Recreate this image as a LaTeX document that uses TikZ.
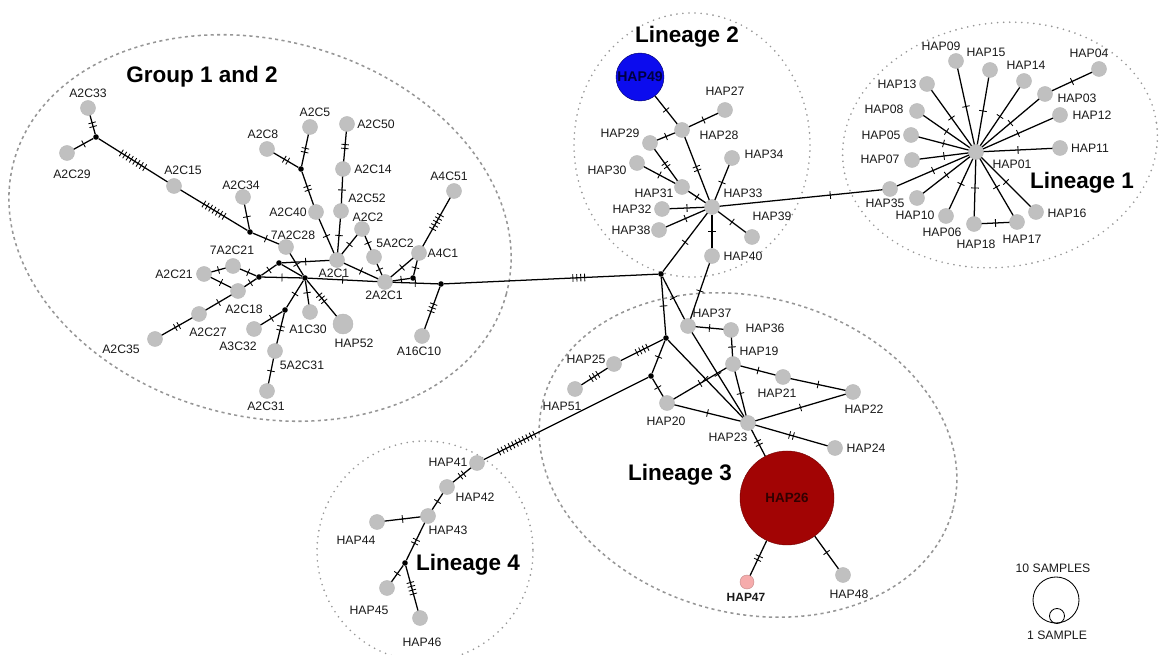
\documentclass[tikz,border=0pt]{standalone}
\usepackage{fontspec}
\setmainfont{Liberation Sans}
\usetikzlibrary{decorations.markings}

\definecolor{hapgray}{RGB}{192,192,192}
\definecolor{hapblue}{RGB}{12,12,238}
\definecolor{hapred}{RGB}{162,4,4}
\definecolor{happink}{RGB}{246,172,172}
\definecolor{ringgray}{RGB}{150,150,150}

\tikzset{
  hap/.style={circle, fill=hapgray, draw=black!28, line width=0.3pt, inner sep=0pt, minimum size=3.75mm},
  med/.style={circle, fill=black, inner sep=0pt, minimum size=1.4mm},
  lbl/.style={font=\fontsize{8.7}{10}\selectfont, text=black!90, inner sep=1pt},
  ttl/.style={font=\bfseries\fontsize{16}{19}\selectfont},
  link/.style={line width=0.9pt},
  mutat/.style 2 args={postaction={decorate, decoration={markings,
      mark=at position #2 with {\foreach \k in {1,...,#1}
        {\draw[line width=0.6pt] ({(\k-(#1+1)/2)*2.8pt},-2.7pt) -- ({(\k-(#1+1)/2)*2.8pt},2.7pt);}}}}},
  mut/.style={mutat={#1}{0.5}},
  dashring/.style={draw=ringgray, line width=1.1pt, dash pattern=on 2.2pt off 2.4pt},
  dotring/.style={draw=ringgray, line width=1.3pt, line cap=round, dash pattern=on 0pt off 4.3pt},
}

\begin{document}
\begin{tikzpicture}[x=0.025cm, y=-0.025cm]
\useasboundingbox (0,0) rectangle (1159,655);

% groups
\draw[dashring, rotate around={-15:(260,228)}] (260,228) ellipse [x radius=255, y radius=188];
\draw[dotring] (692,145) ellipse [x radius=118, y radius=132];
\draw[dotring, rotate around={8:(1000,145)}] (1000,145) ellipse [x radius=158, y radius=122];
\draw[dashring, rotate around={-15:(748,455)}] (748,455) ellipse [x radius=212, y radius=158];
\draw[dotring] (425,551) ellipse [x radius=108, y radius=110];

% haplotypes, one sample
\foreach \n/\x/\y in {A2C33/88/108, A2C29/67/153, A2C15/174/186, A2C34/243/197,
    A2C8/267/149, A2C5/310/127, A2C50/347/124, A2C14/343/169, A2C52/341/211,
    A2C40/316/212, A2C2/362/229, 5A2C2/374/257, A4C51/454/191, A4C1/419/253,
    A2C1/337/260, 2A2C1/385/282, 7A2C28/286/247, 7A2C21/233/266, A2C21/204/274,
    A2C18/238/291, A2C27/199/314, A2C35/155/339, A3C32/254/329, 5A2C31/275/351,
    A2C31/267/391, A1C30/310/312, A16C10/422/336,
    HAP27/725/110, HAP28/682/130, HAP29/650/143, HAP34/732/158, HAP30/637/163,
    HAP31/682/187, HAP33/712/207, HAP32/662/209, HAP38/659/230, HAP39/752/237,
    HAP40/712/256,
    HAP09/956/61, HAP15/990/70, HAP14/1024/81, HAP04/1099/69, HAP03/1045/94,
    HAP13/927/84, HAP08/917/111, HAP12/1060/115, HAP05/911/135, HAP11/1060/148,
    HAP07/912/160, HAP01/976/152, HAP35/890/189, HAP10/917/198, HAP06/946/216,
    HAP18/974/224, HAP17/1017/222, HAP16/1036/212,
    HAP37/688/326, HAP36/731/330, HAP19/733/364, HAP21/783/377, HAP22/853/392,
    HAP23/748/423, HAP24/835/448, HAP48/843/575, HAP25/614/364, HAP51/575/389,
    HAP20/667/403,
    HAP41/477/463, HAP42/447/487, HAP43/428/516, HAP44/377/522, HAP45/387/588,
    HAP46/420/618}
  \node[hap] (\n) at (\x,\y) {};

% larger haplotypes
\node[hap, minimum size=5mm] (HAP52) at (343,324) {};
\node[hap, fill=hapblue, draw=blue!40!black, minimum size=12mm,
  font=\bfseries\fontsize{10}{12}\selectfont, text=black!75!blue] (HAP49) at (640,77) {HAP49};
\node[hap, fill=hapred, draw=hapred!70!black, minimum size=23.5mm,
  font=\bfseries\fontsize{9.5}{11}\selectfont, text=black!70!hapred] (HAP26) at (787,498) {HAP26};
\node[hap, fill=happink, draw=happink!80!black, minimum size=3.5mm] (HAP47) at (747,582) {};

% median vectors
\foreach \n/\x/\y in {j1/96/137, j2/250/232, j3/301/169, j4/279/263, j5/259/277,
    j6/305/278, j7/285/310, j8/413/278, j9/441/284, jc/661/274, jd/666/338,
    je/651/376, jf/405/563}
  \node[med] (\n) at (\x,\y) {};

% connections with mutation steps
\foreach \p/\q/\m in {A2C33/j1/2, A2C29/j1/1, j1/A2C15/8, A2C15/j2/7, A2C34/j2/1,
    j2/7A2C28/1, 7A2C28/j6/1, A2C8/j3/2, A2C5/j3/2, j3/A2C40/2, A2C40/A2C1/1,
    A2C50/A2C14/2, A2C14/A2C52/1, A2C52/A2C1/1, A2C2/A2C1/1, A2C2/5A2C2/1,
    5A2C2/2A2C1/1, A2C1/2A2C1/1, A2C1/j4/1, j4/j5/1, A2C21/7A2C21/1, A2C21/A2C18/1,
    7A2C21/j5/1, A2C18/j5/1, j5/j6/1, A2C18/A2C27/1, A2C27/A2C35/2, j6/j7/1,
    A3C32/j7/1, j7/5A2C31/2, 5A2C31/A2C31/1, j6/A1C30/1, j6/HAP52/3, j6/2A2C1/1,
    A4C51/A4C1/5, A4C1/2A2C1/1, A4C1/j8/1, j8/2A2C1/1, 2A2C1/j9/1, j9/A16C10/3,
    HAP49/HAP28/1, HAP27/HAP28/1, HAP29/HAP28/1, HAP28/HAP33/2, HAP29/HAP31/2,
    HAP30/HAP31/1, HAP31/HAP33/1, HAP34/HAP33/1, HAP32/HAP33/1, HAP38/HAP33/1,
    HAP39/HAP33/1, HAP40/HAP33/1, HAP33/jc/1,
    HAP03/HAP04/1, HAP18/HAP17/1,
    jc/jd/1, jc/HAP37/1, HAP40/HAP37/1, HAP37/HAP36/1, HAP37/HAP23/1,
    HAP36/HAP19/1, HAP19/HAP21/1, HAP21/HAP22/1, HAP19/HAP23/1, HAP19/HAP20/1,
    HAP22/HAP23/1, HAP23/HAP24/2, HAP23/HAP26/2, HAP26/HAP47/2, HAP26/HAP48/1,
    jd/HAP25/4, HAP25/HAP51/3, jd/je/1, jd/HAP23/1, je/HAP20/1, HAP20/HAP23/1,
    HAP41/HAP42/2, HAP42/HAP43/1, HAP43/HAP44/1, HAP43/jf/2, jf/HAP45/1, jf/HAP46/4}
  \draw[link, mut=\m] (\p) -- (\q);

% star of lineage 1
\foreach \q in {HAP09, HAP15, HAP14, HAP03, HAP13, HAP08, HAP12, HAP05, HAP11,
    HAP07, HAP35, HAP10, HAP06, HAP18, HAP17, HAP16}
  \draw[link, mut=1] (HAP01) -- (\q);

\draw[link] (j4) -- (j6);
\draw[link, mutat={4}{0.63}] (j9) -- (jc);
\draw[link, mutat={1}{0.68}] (HAP33) -- (HAP35);
\draw[link, mutat={11}{0.8}] (je) -- (HAP41);

% labels
\foreach \n/\x/\y in {A2C33/88/93, A2C29/72/174, A2C15/183/170, A2C34/241/185,
    A2C8/263/134, A2C5/315/112, A2C50/376/124, A2C14/373/169, A2C52/367/198,
    A2C40/288/212, A2C2/368/217, 5A2C2/395/243, A4C51/449/176, A4C1/443/253,
    A2C1/334/273, 2A2C1/384/295, 7A2C28/293/235, 7A2C21/232/250, A2C21/174/274,
    A2C18/244/309, A2C27/208/332, A2C35/121/349, A3C32/238/346, 5A2C31/302/365,
    A2C31/266/406, A1C30/308/329, HAP52/354/343, A16C10/419/351,
    HAP27/725/91, HAP28/719/135, HAP29/620/133, HAP34/764/154, HAP30/607/170,
    HAP31/654/193, HAP33/743/193, HAP32/632/209, HAP38/631/230, HAP39/772/216,
    HAP40/743/256,
    HAP09/941/46, HAP15/986/52, HAP14/1026/65, HAP04/1089/53, HAP03/1077/98,
    HAP13/897/84, HAP08/884/109, HAP12/1092/115, HAP05/881/135, HAP11/1090/148,
    HAP07/880/159, HAP01/1012/164, HAP35/885/203, HAP10/915/215, HAP06/942/232,
    HAP18/976/244, HAP17/1022/239, HAP16/1067/213,
    HAP37/712/313, HAP36/765/328, HAP19/759/351, HAP21/777/393, HAP22/864/409,
    HAP23/728/437, HAP24/866/448, HAP48/849/594, HAP25/586/359, HAP51/562/406,
    HAP20/666/421,
    HAP41/448/462, HAP42/475/497, HAP43/448/530, HAP44/356/540, HAP45/369/610,
    HAP46/422/642}
  \node[lbl] (t\n) at (\x,\y) {\n};
\node[lbl, font=\bfseries\fontsize{8.5}{10}\selectfont] (tHAP47) at (746,597) {HAP47};

% group names
\node[ttl] (tGroup) at (202,77) {Group 1 and 2};
\node[ttl] (tLin2) at (687,37) {Lineage 2};
\node[ttl] (tLin1) at (1082,183) {Lineage 1};
\node[ttl] (tLin3) at (680,475) {Lineage 3};
\node[ttl] (tLin4) at (468,565) {Lineage 4};

% legend
\node[lbl] (tTen) at (1053,568) {10 SAMPLES};
\node[circle, draw, line width=0.6pt, inner sep=0pt, minimum size=11.5mm] (ten) at (1056,600) {};
\node[circle, draw, line width=0.6pt, inner sep=0pt, minimum size=3.75mm] (one) at (1057,616) {};
\node[lbl] (tOne) at (1057,635) {1 SAMPLE};
\end{tikzpicture}
\end{document}
